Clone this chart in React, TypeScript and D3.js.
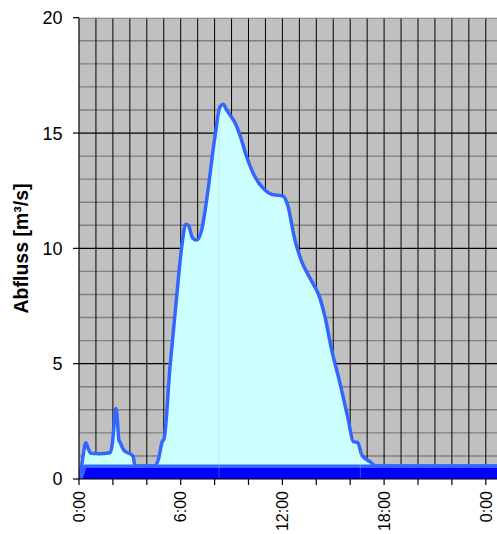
import React from "react";
import * as d3 from "d3";

// Discharge hydrograph (hours since 0:00, m³/s)
const flowHours = [0.05, 0.2, 0.41, 0.55, 0.7, 1.2, 1.83, 1.97, 2.1, 2.18, 2.27, 2.35, 2.45, 2.6, 2.75, 3.0, 3.2, 3.3, 4.45, 4.7, 4.9, 5.02, 5.37, 5.76, 6.06, 6.3, 6.45, 6.7, 6.94, 7.24, 7.53, 8.02, 8.32, 8.51, 8.71, 8.91, 9.2, 9.5, 9.89, 10.28, 10.87, 11.37, 12.05, 12.3, 12.74, 13.14, 13.63, 14.22, 14.51, 14.91, 15.4, 15.89, 16.18, 16.45, 16.68, 17.17, 17.52, 26];
const flowValues = [0, 0.8, 1.57, 1.3, 1.12, 1.1, 1.14, 1.55, 2.6, 3.06, 2.5, 1.7, 1.55, 1.3, 1.18, 1.1, 0.97, 0.56, 0.56, 0.9, 1.6, 1.75, 4.87, 7.9, 10.07, 11.05, 11.0, 10.45, 10.36, 10.8, 12.1, 14.84, 16.14, 16.25, 16.0, 15.78, 15.45, 14.9, 13.97, 13.25, 12.6, 12.34, 12.26, 11.9, 10.36, 9.42, 8.7, 7.83, 7.04, 5.59, 4.15, 2.56, 1.62, 1.58, 1.04, 0.75, 0.56, 0.56];

// Base flow band
const baseHours = [0.1, 0.35, 26];
const baseValues = [0, 0.55, 0.55];

const seamHours = [8.26, 16.6];

const yTicks = [0, 5, 10, 15, 20];
const xTickHours = [0, 2, 4, 6, 8, 10, 12, 14, 16, 18, 20, 22, 24, 26];
const xLabelHours = [0, 6, 12, 18, 24];
const xLabels = ["0:00", "6:00", "12:00", "18:00", "0:00"];

const W = 497;
const H = 534;
const FONT = "'Liberation Sans', Arial, sans-serif";

export default function App() {
  const x = d3.scaleLinear().domain([0, 26]).range([79, 79 + 26 * 16.95]);
  const y = d3.scaleLinear().domain([0, 20]).range([479, 17.7]);
  const left = 79;
  const top = y(20);
  const bottom = y(0);

  const flow = flowHours.map((h, i) => [h, flowValues[i]] as [number, number]);
  const base = baseHours.map((h, i) => [h, baseValues[i]] as [number, number]);

  const area = d3
    .area<[number, number]>()
    .x((d) => x(d[0]))
    .y0(bottom)
    .y1((d) => y(d[1]))
    .curve(d3.curveMonotoneX);
  const line = d3
    .line<[number, number]>()
    .x((d) => x(d[0]))
    .y((d) => y(d[1]))
    .curve(d3.curveMonotoneX);
  const baseArea = d3
    .area<[number, number]>()
    .x((d) => x(d[0]))
    .y0(bottom)
    .y1((d) => y(d[1]));
  const baseLine = d3
    .line<[number, number]>()
    .x((d) => x(d[0]))
    .y((d) => y(d[1]));

  const hourLines = d3.range(1, 27);
  const valueLines = d3.range(1, 20);

  return (
    <svg
      width={W}
      height={H}
      style={{ position: "absolute", left: 0, top: 0, background: "#fff" }}
    >
      <defs>
        <clipPath id="plotClip">
          <rect x={left} y={top} width={W - left} height={bottom - top} />
        </clipPath>
        <clipPath id="areaClip">
          <path d={area(flow) || ""} />
        </clipPath>
      </defs>
      <g clipPath="url(#plotClip)">
        <rect x={left} y={top} width={W - left} height={bottom - top} fill="#c0c0c0" />
        {valueLines.map((v) => (
          <line
            key={"h" + v}
            x1={left}
            x2={W}
            y1={y(v)}
            y2={y(v)}
            stroke={v % 5 === 0 ? "#000" : "#808080"}
            strokeWidth={v % 5 === 0 ? 1.2 : 1.4}
          />
        ))}
        {hourLines.map((h) => (
          <line key={"v" + h} x1={x(h)} x2={x(h)} y1={top} y2={bottom} stroke="#000" strokeWidth={1} />
        ))}
        <path d={area(flow) || ""} fill="#ccffff" />
        <path d={baseArea(base) || ""} fill="#0000ff" />
        <path d={baseLine(base) || ""} fill="none" stroke="#3366ff" strokeWidth={3.5} />
        <path d={line(flow) || ""} fill="none" stroke="#3366ff" strokeWidth={3.5} strokeLinejoin="round" />
        <g clipPath="url(#areaClip)">
          {seamHours.map((h) => (
            <line key={"s" + h} x1={x(h)} x2={x(h)} y1={top} y2={bottom - 1} stroke="#c0c0c0" strokeOpacity={0.35} strokeWidth={1} />
          ))}
        </g>
        <line x1={left} x2={W} y1={top} y2={top} stroke="#808080" strokeWidth={2} />
      </g>
      {/* axes */}
      <line x1={left} x2={left} y1={top} y2={bottom} stroke="#000" strokeWidth={1.2} />
      <line x1={left} x2={W} y1={bottom} y2={bottom} stroke="#000" strokeWidth={1.2} />
      {yTicks.map((v) => (
        <g key={"yt" + v}>
          <line x1={left - 6} x2={left} y1={y(v)} y2={y(v)} stroke="#000" strokeWidth={1.2} />
          <text
            x={62.5}
            y={y(v)}
            dy="0.36em"
            textAnchor="end"
            fontFamily={FONT}
            fontSize={18}
            fill="#000"
          >
            {v}
          </text>
        </g>
      ))}
      {xTickHours.map((h) =>
        x(h) <= W ? (
          <line key={"xt" + h} x1={x(h)} x2={x(h)} y1={bottom} y2={bottom + 6} stroke="#000" strokeWidth={1.2} />
        ) : null
      )}
      {xLabelHours.map((h, i) => (
        <text
          key={"xl" + i}
          transform={`translate(${x(h)},491) rotate(-90)`}
          dy="0.36em"
          textAnchor="end"
          fontFamily={FONT}
          fontSize={16}
          fill="#000"
        >
          {xLabels[i]}
        </text>
      ))}
      <text
        transform="translate(27.5,248.5) rotate(-90)"
        textAnchor="middle"
        fontFamily={FONT}
        fontSize={19.5}
        fontWeight="bold"
        fill="#000"
      >
        Abfluss [m³/s]
      </text>
    </svg>
  );
}
